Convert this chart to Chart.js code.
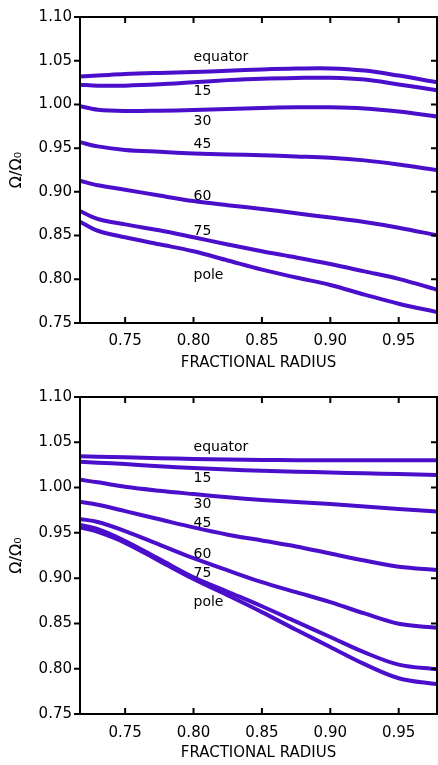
<!DOCTYPE html>
<html>
<head>
<meta charset="utf-8">
<script src="https://cdn.jsdelivr.net/npm/chart.js@4"></script>
<style>
  body { margin: 0; background: #fff; }
  canvas { display: block; }
</style>
</head>
<body>
<canvas id="top-chart" width="438" height="380"></canvas>
<canvas id="bottom-chart" width="438" height="385"></canvas>
<script>
// fractional radius sample points shared by all curves
const radius = [0.717, 0.73, 0.75, 0.775, 0.80, 0.825, 0.85, 0.875, 0.90, 0.925, 0.95, 0.978];
const latitudes = ["equator", "15", "30", "45", "60", "75", "pole"];
const xTicks = [0.75, 0.80, 0.85, 0.90, 0.95];
const yTicks = [0.75, 0.80, 0.85, 0.90, 0.95, 1.00, 1.05, 1.10];

// upper panel
const topEquator = [1.032, 1.033, 1.0347, 1.036, 1.037, 1.0385, 1.040, 1.041, 1.0412, 1.0388, 1.033, 1.0254];
const top15 = [1.0226, 1.0214, 1.0215, 1.023, 1.0254, 1.0278, 1.0295, 1.0303, 1.0305, 1.0284, 1.0228, 1.0163];
const top30 = [0.998, 0.994, 0.9925, 0.9928, 0.9935, 0.9948, 0.996, 0.9967, 0.9968, 0.9954, 0.9918, 0.9862];
const top45 = [0.9568, 0.952, 0.948, 0.9458, 0.944, 0.9428, 0.9418, 0.9405, 0.939, 0.936, 0.9312, 0.9249];
const top60 = [0.9128, 0.9075, 0.9025, 0.8958, 0.8895, 0.8848, 0.8805, 0.8755, 0.8706, 0.8655, 0.859, 0.8503];
const top75 = [0.8779, 0.869, 0.8628, 0.856, 0.848, 0.8398, 0.832, 0.825, 0.8174, 0.809, 0.8005, 0.788];
const topPole = [0.8658, 0.8555, 0.848, 0.840, 0.832, 0.8215, 0.811, 0.802, 0.7935, 0.7825, 0.772, 0.7625];
const topLabelY = [1.054, 1.0155, 0.981, 0.9546, 0.8944, 0.8547, 0.8045];

// lower panel
const botEquator = [1.0345, 1.034, 1.0335, 1.0325, 1.0315, 1.031, 1.0305, 1.0303, 1.0302, 1.0302, 1.0302, 1.0302];
const bot15 = [1.0284, 1.0275, 1.0259, 1.0235, 1.0215, 1.020, 1.0185, 1.0175, 1.0167, 1.0157, 1.0149, 1.0138];
const bot30 = [1.0086, 1.0058, 1.0009, 0.9965, 0.9928, 0.9893, 0.9864, 0.984, 0.9818, 0.979, 0.9763, 0.9737];
const bot45 = [0.9843, 0.981, 0.974, 0.965, 0.956, 0.948, 0.9415, 0.935, 0.9272, 0.9194, 0.9125, 0.9091];
const bot60 = [0.9653, 0.962, 0.952, 0.937, 0.922, 0.9085, 0.8955, 0.8845, 0.8735, 0.861, 0.8497, 0.8452];
const bot75 = [0.9587, 0.954, 0.941, 0.921, 0.901, 0.885, 0.869, 0.852, 0.835, 0.818, 0.8045, 0.7993];
const botPole = [0.956, 0.951, 0.939, 0.919, 0.899, 0.881, 0.8625, 0.843, 0.824, 0.805, 0.7895, 0.7828];
const bottomLabelY = [1.0442, 1.0104, 0.9811, 0.9605, 0.926, 0.9054, 0.8735];

const labelX = 0.80;
const lineColor = "#4b0fcb";
const fontFamily = "'DejaVu Sans', sans-serif";

// frame with inward ticks + curve labels, drawn on top of the lines
const framePlugin = {
  id: "frame",
  afterDatasetsDraw(chart) {
    const { ctx, chartArea: a, scales: { x, y } } = chart;
    ctx.save();
    ctx.strokeStyle = "#000";
    ctx.lineWidth = 2;
    ctx.strokeRect(a.left, a.top, a.right - a.left, a.bottom - a.top);
    ctx.beginPath();
    xTicks.forEach((v) => {
      const px = x.getPixelForValue(v);
      ctx.moveTo(px, a.bottom);
      ctx.lineTo(px, a.bottom - 6);
      ctx.moveTo(px, a.top);
      ctx.lineTo(px, a.top + 6);
    });
    yTicks.forEach((v) => {
      const py = y.getPixelForValue(v);
      ctx.moveTo(a.left - 6, py);
      ctx.lineTo(a.left, py);
      ctx.moveTo(a.right, py);
      ctx.lineTo(a.right - 6, py);
    });
    ctx.stroke();

    const labelY = chart.options.plugins.frame.labelY;
    ctx.fillStyle = "#000";
    ctx.font = "14px " + fontFamily;
    ctx.textAlign = "left";
    ctx.textBaseline = "middle";
    latitudes.forEach((name, i) => {
      ctx.fillText(name, x.getPixelForValue(labelX), y.getPixelForValue(labelY[i]));
    });
    ctx.restore();
  },
};

function makeChart(id, series, labelY, layout) {
  return new Chart(document.getElementById(id), {
    type: "line",
    data: {
      datasets: series.map((values, i) => ({
        label: latitudes[i],
        data: radius.map((r, j) => ({ x: r, y: values[j] })),
        borderColor: lineColor,
        borderWidth: 4,
        pointRadius: 0,
        tension: 0.35,
        fill: false,
      })),
    },
    options: {
      responsive: false,
      animation: false,
      layout: { padding: { top: layout.top, right: 1, left: 0, bottom: 0 } },
      plugins: {
        legend: { display: false },
        tooltip: { enabled: false },
        frame: { labelY },
      },
      scales: {
        x: {
          type: "linear",
          min: 0.717,
          max: 0.978,
          grid: { display: false, drawTicks: false },
          border: { display: false },
          afterBuildTicks: (s) => { s.ticks = xTicks.map((v) => ({ value: v })); },
          afterFit: (s) => { s.height = layout.xHeight; },
          ticks: {
            autoSkip: false,
            maxRotation: 0,
            padding: layout.tickPad,
            color: "#000",
            font: { family: fontFamily, size: 15 },
            callback: (v) => Number(v).toFixed(2),
          },
          title: {
            display: true,
            text: "FRACTIONAL RADIUS",
            color: "#000",
            font: { family: fontFamily, size: 15 },
            padding: { top: 0, bottom: layout.titlePad },
          },
        },
        y: {
          min: 0.75,
          max: 1.10,
          grid: { display: false, drawTicks: false },
          border: { display: false },
          afterBuildTicks: (s) => { s.ticks = yTicks.map((v) => ({ value: v })); },
          afterFit: (s) => { s.width = 80; },
          ticks: {
            autoSkip: false,
            padding: 8,
            color: "#000",
            font: { family: fontFamily, size: 15 },
            callback: (v) => Number(v).toFixed(2),
          },
          title: {
            display: true,
            text: "Ω/Ω₀",
            color: "#000",
            font: { family: fontFamily, size: 16 },
            padding: { top: 7, bottom: 0 },
          },
        },
      },
    },
    plugins: [framePlugin],
  });
}

makeChart("top-chart", [topEquator, top15, top30, top45, top60, top75, topPole], topLabelY,
  { top: 5, xHeight: 57, tickPad: 9, titlePad: 8 });
makeChart("bottom-chart", [botEquator, bot15, bot30, bot45, bot60, bot75, botPole], bottomLabelY,
  { top: 16, xHeight: 51, tickPad: 10, titlePad: 3 });
</script>
</body>
</html>
